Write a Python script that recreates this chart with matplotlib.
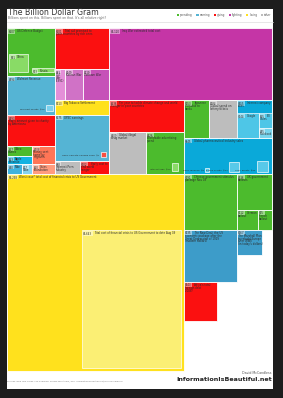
import matplotlib
matplotlib.use("Agg")
import matplotlib.pyplot as plt
from matplotlib.patches import Rectangle
from matplotlib import font_manager

plt.rcParams['font.family'] = ['DejaVu Sans']
installed = {f.name for f in font_manager.fontManager.ttflist}
NARROW = ['Liberation Sans Narrow', 'DejaVu Sans'] if 'Liberation Sans Narrow' in installed else ['DejaVu Sans']

# main boxes, $bn
keys = ['us_defence', 'walmart', 'charity', 'games', 'apple', 'nike', 'coke', 'remit', 'gates_fdn',
        'aid', 'gulf', 'korea', 'vietnam', 'tobacco', 'opec', 'porn', 'hunger',
        'iraq', 'climate', 'drugs', 'advertising', 'japan_stim', 'lottery', 'internet', 'pharma',
        'crisis_worst', 'china_stim', 'uk_bail', 'german_bail', 'french_bail', 'new_deal', 'marshall', 'africa']
values = [607, 494, 393, 67, 53, 40, 27, 108, 60,
          601, 83, 149, 219, 213, 675, 88, 102,
          3120, 636, 409, 426, 253, 284, 355, 845,
          9298, 791, 336, 112, 75, 735, 167, 343]
kinds = ['spending', 'earning', 'giving', 'spending', 'earning', 'earning', 'earning', 'giving', 'giving',
         'giving', 'fighting', 'fighting', 'fighting', 'losing', 'earning', 'other', 'giving',
         'fighting', 'giving', 'other', 'spending', 'spending', 'other', 'earning', 'earning',
         'losing', 'spending', 'spending', 'spending', 'spending', 'earning', 'earning', 'giving']
names = ['US Defence Budget', 'Walmart Revenue', 'Yearly amount given to charity\nby Americans',
         'Video\nGames', 'Apple\nRevenue', 'Nike', 'Coke',
         'Money sent\nhome by\nmigrants', 'Gates\nFoundation',
         'Total aid promised to\npoor countries by rich ones', 'Gulf\nWar\n(1991)', 'Korean War', 'Vietnam War',
         'Big Tobacco Settlement', 'OPEC earnings', 'Internet Porn\nIndustry', 'Yearly cost to\nend world\nhunger',
         'Iraq War estimated total cost', 'Per year to tackle climate change and world\nhunger in poor countries',
         'Global illegal\ndrug market', 'Worldwide advertising\nspend',
         'Japanese\nstimulus to\nbanks', 'Global spend on\nlottery tickets', 'Internet company\nsales',
         'Global pharmaceutical industry sales',
         'Worst case* total cost of financial crisis to US Government',
         'Chinese government stimulus\npackage Nov 08', 'UK government\nbailouts', 'German\nbailout', 'French\nbailout',
         'The New Deal: the US\neconomic package after the\nGreat Depression of 1929\n(modern dollars)',
         'The Marshall Plan\nto rebuild Europe\nafter WWII\n(in today\'s dollars)',
         'Africa\'s total\nforeign debt\n(2008)']

# boxes drawn inside other boxes, $bn
inset_keys = ['china', 'russia', 'walmart_profit', 'opec_fund', 'web_ads', 'crisis_now',
              'google', 'gates', 'facebook', 'ebay', 'exxon', 'shell']
inset_values = [91, 23, 10, 7, 13, 3643, 144, 55, 35, 4, 24, 32]
inset_names = ['China', 'Russia', 'Walmart Profits', 'OPEC Climate Change Fund', 'Internet ads',
               'Total cost of financial crisis to US Government to date Aug 09',
               'Google', 'Bill\nGates', 'Facebook', 'eBay revenue', 'Exxon profits', 'Shell profits']

legend_kinds = ['spending', 'earning', 'giving', 'fighting', 'losing', 'other']

kind_color = {'spending': '#4cbb2d', 'earning': '#55b4d4', 'giving': '#fb1010',
              'fighting': '#c535a6', 'losing': '#ffe11d', 'other': '#bdbdbd'}
shade = {'games': '#4cbb2d', 'apple': '#12b2e2', 'nike': '#3fb2de', 'coke': '#86d2ee',
         'remit': '#ff7556', 'gates_fdn': '#ff9c7e', 'gulf': '#e48fd8', 'korea': '#d072c6',
         'vietnam': '#c652b8', 'internet': '#0aa9d9', 'pharma': '#0aa9d9', 'new_deal': '#3d9cc9',
         'marshall': '#3d9cc9', 'china': '#8ddd6a', 'russia': '#8ddd6a', 'walmart_profit': '#7fd3ef',
         'opec_fund': '#ff4a3a', 'web_ads': '#8ddd6a', 'crisis_now': '#fbf07a', 'google': '#52c8e8',
         'gates': '#52c8e8', 'facebook': '#7fd8ef', 'ebay': '#5dcbea', 'exxon': '#5dcbea', 'shell': '#5dcbea'}

v = dict(zip(keys, values))
v.update(zip(inset_keys, inset_values))
kind = dict(zip(keys, kinds))
name = dict(zip(keys, names))
name.update(zip(inset_keys, inset_names))

K = 3.75           # px^2 per $bn
X0, Y0, W = 7, 28, 265


def weight(n):
    return v[n] if isinstance(n, str) else sum(weight(c) for c in n[1])


def place(n, rect, boxes):
    if isinstance(n, str):
        boxes[n] = rect
        return
    d, kids = n
    x, y, w, h = rect
    tot = weight(n)
    off = 0
    for k in kids:
        f = weight(k) / tot
        if d == 'h':
            place(k, (x + off * w, y, f * w, h), boxes)
        else:
            place(k, (x, y + off * h, w, f * h), boxes)
        off += f


def inset(key, parent, aspect, pad_r, pad_b, left=False):
    px, py, pw, ph = parent
    a = v[key] * K
    w = (a * aspect) ** 0.5
    h = a / w
    x = px + pad_r if left else px + pw - pad_r - w
    return (x, py + ph - pad_b - h, w, h)


top = ('h', [
    ('v', ['us_defence', 'walmart', 'charity',
           ('h', [('v', ['games', 'apple', ('h', ['nike', 'coke'])]), ('v', ['remit', 'gates_fdn'])])]),
    ('v', ['aid', ('h', ['gulf', 'korea', 'vietnam']), 'tobacco', 'opec', ('h', ['porn', 'hunger'])]),
    ('v', ['iraq', ('h', [('v', ['climate', ('h', ['drugs', 'advertising'])]),
                          ('v', [('h', ['japan_stim', 'lottery', 'internet']), 'pharma'])])]),
])

boxes = {}
top_h = weight(top) * K / W
place(top, (X0, Y0, W, top_h), boxes)

# bottom band: worst case crisis under the left part, rest stacked on the right
cx, cy, cw, ch = boxes['climate']
yw = cx + cw - X0
by = Y0 + top_h
boxes['crisis_worst'] = (X0, by, yw, v['crisis_worst'] * K / yw)
rx, rw = X0 + yw, W - yw
greens = ('h', ['china_stim', ('v', ['uk_bail', ('h', ['german_bail', 'french_bail'])])])
gh = weight(greens) * K / rw
place(greens, (rx, by, rw, gh), boxes)
ndw = boxes['china_stim'][2]
ndh = v['new_deal'] * K / ndw
boxes['new_deal'] = (rx, by + gh, ndw, ndh)
ms = (v['marshall'] * K) ** 0.5
boxes['marshall'] = (rx + ndw, by + gh, ms, ms)
aw = (v['africa'] * K * 0.85) ** 0.5
boxes['africa'] = (rx, by + gh + ndh, aw, v['africa'] * K / aw)

ins = {}
ins['china'] = inset('china', boxes['us_defence'], 1.05, 2, 4, left=True)
ins['russia'] = inset('russia', boxes['us_defence'], 5.5, 1, 4)
ins['walmart_profit'] = inset('walmart_profit', boxes['walmart'], 1, 2, 4)
ins['opec_fund'] = inset('opec_fund', boxes['opec'], 1, 3.5, 4)
ins['web_ads'] = inset('web_ads', boxes['advertising'], 0.75, 6, 3)
ins['crisis_now'] = inset('crisis_now', boxes['crisis_worst'], 0.717, 3, 3)
mx, my, mw, mh = boxes['internet']
sub = ('h', ['google', ('v', ['gates', 'facebook'])])
sh = weight(sub) * K / mw
place(sub, (mx, my + mh - sh, mw, sh), ins)
px_, py_, pw_, ph_ = boxes['pharma']
for i, k in enumerate(['ebay', 'exxon', 'shell']):
    ins[k] = inset(k, (px_ + i * pw_ / 3, py_, pw_ / 3, ph_), 1, 4, 2)

fig = plt.figure(figsize=(2.83, 3.98), dpi=100)
fig.patch.set_facecolor('#1d1d1d')
ax = fig.add_axes([0, 0, 1, 1])
ax.set_xlim(0, 283)
ax.set_ylim(398, 0)
ax.axis('off')
ax.add_patch(Rectangle((7, 8.5), 266, 380.5, facecolor='white', edgecolor='none', zorder=0))
renderer = fig.canvas.get_renderer()
FS = 1.9
LH = 2.8
TXT = '#2b2b2b'


def text_w(t):
    return t.get_window_extent(renderer=renderer).width


def label(key, rect, side='in'):
    x, y, w, h = rect
    lines = name[key].split('\n')
    num = f"${v[key]:,}"
    if side == 'in':
        t = ax.text(x + 1.3, y + 1.2, num, fontsize=FS, family=NARROW, color=TXT, va='top', ha='left',
                    zorder=5, bbox=dict(boxstyle='square,pad=0.15', facecolor='white', alpha=0.45,
                                        edgecolor='none'))
        off = text_w(t) + 2.0
        first = ax.text(x + 1.3 + off, y + 1.2, lines[0], fontsize=FS, family=NARROW, color=TXT,
                        va='top', ha='left', zorder=5)
        row = 1
        if off + text_w(first) > w - 1.5:
            # not enough room beside the number: drop the name below it
            first.set_position((x + 1.3, y + 1.2 + LH))
            row = 2
        for ln in lines[1:]:
            ax.text(x + 1.3, y + 1.2 + LH * row, ln, fontsize=FS, family=NARROW, color=TXT,
                    va='top', ha='left', zorder=5)
            row += 1
    else:
        ax.text(x - 1.5, y + h, name[key] + '  ' + num, fontsize=FS * 0.9, family=NARROW, color=TXT,
                va='bottom', ha='right', zorder=5)


for k in keys:
    col = shade.get(k, kind_color[kind[k]])
    x, y, w, h = boxes[k]
    ax.add_patch(Rectangle((x, y), w, h, facecolor=col, edgecolor='white', linewidth=0.6, zorder=1))
    label(k, boxes[k])

for k in inset_keys:
    x, y, w, h = ins[k]
    ax.add_patch(Rectangle((x, y), w, h, facecolor=shade[k], edgecolor='white', linewidth=0.5,
                           alpha=0.95, zorder=2))
    if k in ('walmart_profit', 'opec_fund', 'web_ads', 'ebay', 'exxon', 'shell'):
        label(k, ins[k], side='left')
    else:
        label(k, ins[k])

# header
ax.text(7.5, 15, 'The Billion Dollar Gram', fontsize=5.6, color='#333333', va='baseline', ha='left')
ax.text(7.5, 19.2, "Billions spent on this. Billions spent on that. It's all relative right?",
        fontsize=2.2, color='#666666', va='baseline', ha='left')
ax.plot([7, 273], [21.8, 21.8], color='#dddddd', linewidth=0.5)

# legend, right-aligned to the card edge
items = []
for kd in legend_kinds:
    t = ax.text(0, 16.3, kd, fontsize=2.0, family=NARROW, color='#555555', va='baseline', ha='left')
    items.append((kd, t, text_w(t)))
total = sum(3.2 + tw + 3.6 for _, _, tw in items) - 3.6
lx = 271.5 - total
for kd, t, tw in items:
    ax.add_patch(Rectangle((lx, 14), 2.3, 2.3, facecolor=kind_color[kd], edgecolor='none'))
    t.set_x(lx + 3.2)
    lx += 3.2 + tw + 3.6

# footer
ax.text(272, 374.5, 'David McCandless', fontsize=2.3, color='#555555', ha='right', va='baseline')
ax.text(272, 381, 'InformationIsBeautiful.net', fontsize=4.6, family=NARROW, fontweight='bold',
        color='#222222', ha='right', va='baseline')
ax.text(7, 382, 'sources: New York Times, The Guardian, Forbes and others / see: informationisbeautiful.net/billiondollargram',
        fontsize=1.55, color='#777777', ha='left', va='baseline')

fig.savefig('out.png', dpi=100, facecolor=fig.get_facecolor())
